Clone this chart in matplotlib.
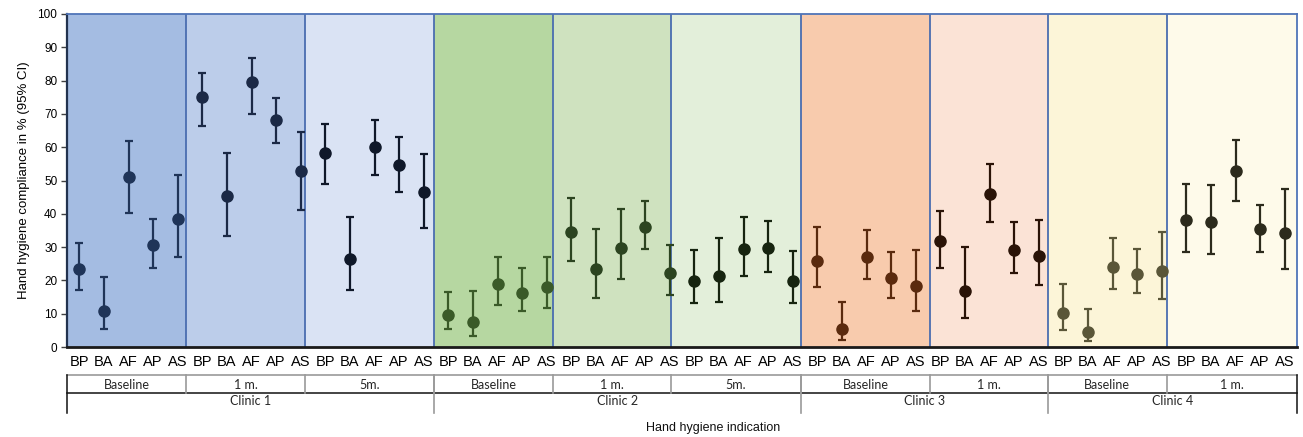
import matplotlib
matplotlib.use("Agg")
import matplotlib.pyplot as plt
from matplotlib.transforms import blended_transform_factory
import numpy as np

# ---------------- data ----------------
indications = ["BP", "BA", "AF", "AP", "AS"]
clinics = ["Clinic 1", "Clinic 2", "Clinic 3", "Clinic 4"]
clinic_periods = [["Baseline", "1 m.", "5m."],
                  ["Baseline", "1 m.", "5m."],
                  ["Baseline", "1 m."],
                  ["Baseline", "1 m."]]

compliance = [
    23.4, 10.9, 51.1, 30.5, 38.3,   # C1 baseline
    75.0, 45.3, 79.6, 68.3, 52.8,   # C1 1m
    58.2, 26.5, 60.1, 54.7, 46.5,   # C1 5m
    9.5, 7.5, 18.8, 16.3, 18.0,     # C2 baseline
    34.5, 23.5, 29.7, 36.0, 22.2,   # C2 1m
    19.9, 21.4, 29.3, 29.7, 19.7,   # C2 5m
    25.9, 5.4, 26.9, 20.7, 18.4,    # C3 baseline
    31.7, 16.7, 46.0, 29.2, 27.3,   # C3 1m
    10.2, 4.6, 24.1, 22.0, 22.8,    # C4 baseline
    38.1, 37.6, 53.0, 35.3, 34.3,   # C4 1m
]
ci_low = [
    17.1, 5.4, 40.2, 23.7, 27.1,
    66.5, 33.4, 69.9, 61.3, 41.0,
    48.8, 17.1, 51.7, 46.4, 35.7,
    5.4, 3.3, 12.7, 10.9, 11.7,
    25.7, 14.8, 20.3, 29.4, 15.6,
    13.2, 13.4, 21.2, 22.6, 13.2,
    18.0, 2.1, 20.4, 14.8, 10.9,
    23.7, 8.6, 37.4, 22.2, 18.7,
    5.2, 1.9, 17.4, 16.3, 14.4,
    28.4, 27.9, 43.8, 28.6, 23.4,
]
ci_high = [
    31.2, 21.1, 62.0, 38.4, 51.6,
    82.3, 58.4, 86.9, 74.8, 64.6,
    67.0, 38.9, 68.2, 63.2, 57.9,
    16.5, 16.9, 26.9, 23.6, 26.9,
    44.8, 35.4, 41.4, 43.7, 30.7,
    29.0, 32.8, 39.0, 37.9, 28.8,
    36.0, 13.6, 35.0, 28.4, 29.2,
    40.8, 30.1, 55.1, 37.4, 38.0,
    18.9, 11.5, 32.6, 29.4, 34.5,
    49.0, 48.5, 62.2, 42.5, 47.3,
]

# ---------------- styles ----------------
bg_colors = ["#a4bce2", "#bccdea", "#dae3f4",
             "#b6d7a1", "#cfe2bf", "#e3efda",
             "#f8cbad", "#fbe3d6",
             "#fcf5d8", "#fefaea"]
pt_colors = ["#1f3458", "#1b2946", "#0f1829",
             "#3a5a28", "#2c4420", "#16240f",
             "#5a2a0e", "#2a1307",
             "#5a5638", "#2c2a1c"]
# small visual offsets of the panel borders (in category units), as drawn in the original
edge_shift = [0.0, -0.15, -0.31, -0.07, -0.23, -0.44, -0.16, 0.08, -0.13, -0.30, 0.0]

fig = plt.figure(figsize=(13.03, 4.37), dpi=100)
ax = fig.add_axes([67 / 1303, 1 - 347 / 437, (1297 - 67) / 1303, (347 - 14) / 437])

n_per = len(indications)
x = np.arange(len(compliance))
comp = np.array(compliance)
lo = np.array(ci_low)
hi = np.array(ci_high)

groups = []
for ci, plist in enumerate(clinic_periods):
    for p in plist:
        groups.append((ci, p))
n_groups = len(groups)
edges = [g * n_per - 0.5 + edge_shift[g] for g in range(n_groups + 1)]

for g in range(n_groups):
    ax.axvspan(edges[g], edges[g + 1], color=bg_colors[g], zorder=0, lw=0)
    if g > 0:
        ax.axvline(edges[g], color="#4a6db0", lw=1.3, zorder=1)
    sl = slice(g * n_per, (g + 1) * n_per)
    ax.errorbar(x[sl], comp[sl], yerr=[comp[sl] - lo[sl], hi[sl] - comp[sl]],
                fmt="o", color=pt_colors[g], ms=8, elinewidth=1.6,
                capsize=2.8, capthick=1.6, zorder=3)

ax.set_xlim(-0.5, len(compliance) - 0.5)
ax.set_ylim(0, 100)
ax.set_yticks(np.arange(0, 101, 10))
ax.set_xticks(x)
ax.set_xticklabels(indications * n_groups, fontsize=10.5, family="Liberation Sans")
ax.tick_params(axis="x", length=0, pad=6)
ax.tick_params(axis="y", length=4, width=1, color="#404040", labelsize=8.5, pad=3)
for lab in ax.get_yticklabels():
    lab.set_family("Liberation Sans")

for s in ["top", "right"]:
    ax.spines[s].set_color("#4f74b8")
    ax.spines[s].set_linewidth(1.3)
ax.spines["left"].set_color("#22324f")
ax.spines["left"].set_linewidth(1.6)
ax.spines["bottom"].set_color("#1a1a1a")
ax.spines["bottom"].set_linewidth(2.0)

ax.set_ylabel("Hand hygiene compliance in % (95% CI)", fontsize=9.5,
              family="Liberation Sans", labelpad=5)

# ---------------- category table below axis ----------------
tr = blended_transform_factory(ax.transData, fig.transFigure)
y_top = 1 - 375 / 437
y_mid = 1 - 392.5 / 437
y_bot = 1 - 413 / 437
y_t1 = 1 - 385 / 437
y_t2 = 1 - 401 / 437
xl, xr = -0.5, len(compliance) - 0.5

ax.plot([xl, xr], [y_top, y_top], transform=tr, color="#9a9a9a", lw=1.2, clip_on=False)
ax.plot([xl, xr], [y_mid, y_mid], transform=tr, color="#111111", lw=1.1, clip_on=False)
ax.plot([xl, xl], [y_top, y_bot], transform=tr, color="#111111", lw=1.1, clip_on=False)
ax.plot([xr, xr], [y_top, y_bot], transform=tr, color="#111111", lw=1.1, clip_on=False)

g = 0
for ci, plist in enumerate(clinic_periods):
    c_start = edges[g]
    for p in plist:
        if g > 0:
            ax.plot([edges[g], edges[g]], [y_top, y_mid], transform=tr, color="#9a9a9a",
                    lw=1.2, clip_on=False)
        ax.text((edges[g] + edges[g + 1]) / 2, y_t1, p, transform=tr, ha="center",
                va="center", fontsize=9, family="Lato", color="#262626")
        g += 1
    c_end = edges[g]
    if ci > 0:
        ax.plot([c_start, c_start], [y_top, y_bot], transform=tr, color="#9a9a9a",
                lw=1.2, clip_on=False)
    ax.text((c_start + c_end) / 2, y_t2, clinics[ci], transform=tr, ha="center",
            va="center", fontsize=9, family="Lato", color="#262626")

fig.text(713 / 1303, 1 - 428 / 437, "Hand hygiene indication", ha="center",
         va="center", fontsize=9, family="Liberation Sans", color="#111111")

fig.savefig("out.png", dpi=100)
